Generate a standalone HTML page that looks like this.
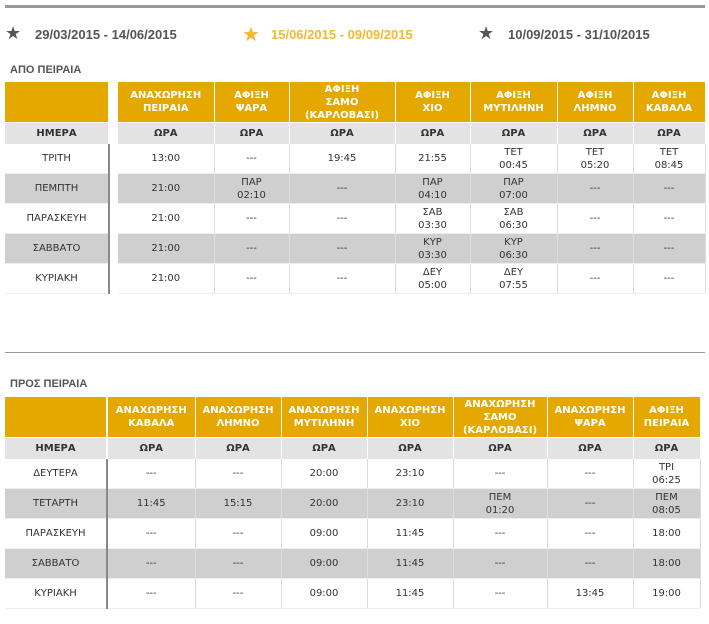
<!DOCTYPE html>
<html><head><meta charset="utf-8"><style>
body{margin:0;width:709px;height:624px;background:#fff;font-family:"Liberation Sans",sans-serif;position:relative;overflow:hidden}
.a{position:absolute}
table{position:absolute;border-collapse:collapse;table-layout:fixed}
td{padding:0;text-align:center;font-size:10px;color:#333;line-height:13px;font-family:"DejaVu Sans",sans-serif}
.h td{background:#E5A800;color:#fff;font-weight:bold;height:40px;border-right:1px solid #fff;border-bottom:1px solid #fff}
.s td{background:#E3E3E3;color:#333;font-weight:bold;height:21px;border-right:1px solid #fff}
.r td{height:29px;border-right:1px solid #ddd;border-bottom:1px solid #eee}
.g td{background:#CFCFCF}
.l td{border-right:none}
.t{font-size:13px;font-weight:bold;color:#555;top:27px}
.ti{font-size:11px;font-weight:bold;color:#555}
.star{font-size:18px;top:23px}
</style></head><body>
<div class="a" style="left:5px;top:5px;width:700px;height:3px;background:#999"></div>
<div class="a star" style="left:5px;color:#555">★</div>
<div class="a t" style="left:35px">29/03/2015 - 14/06/2015</div>
<div class="a star" style="left:242px;color:#F5B82E;font-size:20px;top:22px">★</div>
<div class="a t" style="left:271px;color:#F5B82E">15/06/2015 - 09/09/2015</div>
<div class="a star" style="left:478px;color:#555">★</div>
<div class="a t" style="left:508px">10/09/2015 - 31/10/2015</div>
<div class="a ti" style="left:10px;top:64px">ΑΠΟ ΠΕΙΡΑΙΑ</div>

<table class="l" style="left:5px;top:82px;width:103px">
<tr class="h"><td></td></tr><tr class="s"><td>ΗΜΕΡΑ</td></tr>
<tr class="r"><td>ΤΡΙΤΗ</td></tr><tr class="r g"><td>ΠΕΜΠΤΗ</td></tr><tr class="r"><td>ΠΑΡΑΣΚΕΥΗ</td></tr><tr class="r g"><td>ΣΑΒΒΑΤΟ</td></tr><tr class="r"><td>ΚΥΡΙΑΚΗ</td></tr>
</table>
<div class="a" style="left:108px;top:144px;width:2px;height:150px;background:#888"></div>
<table style="left:118px;top:82px;width:587px">
<colgroup><col style="width:96px"><col style="width:75px"><col style="width:106px"><col style="width:75px"><col style="width:87px"><col style="width:76px"><col style="width:72px"></colgroup>
<tr class="h"><td>ΑΝΑΧΩΡΗΣΗ<br>ΠΕΙΡΑΙΑ</td><td>ΑΦΙΞΗ<br>ΨΑΡΑ</td><td>ΑΦΙΞΗ<br>ΣΑΜΟ<br>(ΚΑΡΛΟΒΑΣΙ)</td><td>ΑΦΙΞΗ<br>ΧΙΟ</td><td>ΑΦΙΞΗ<br>ΜΥΤΙΛΗΝΗ</td><td>ΑΦΙΞΗ<br>ΛΗΜΝΟ</td><td>ΑΦΙΞΗ<br>ΚΑΒΑΛΑ</td></tr>
<tr class="s"><td>ΩΡΑ</td><td>ΩΡΑ</td><td>ΩΡΑ</td><td>ΩΡΑ</td><td>ΩΡΑ</td><td>ΩΡΑ</td><td>ΩΡΑ</td></tr>
<tr class="r"><td>13:00</td><td>---</td><td>19:45</td><td>21:55</td><td>ΤΕΤ<br>00:45</td><td>ΤΕΤ<br>05:20</td><td>ΤΕΤ<br>08:45</td></tr>
<tr class="r g"><td>21:00</td><td>ΠΑΡ<br>02:10</td><td>---</td><td>ΠΑΡ<br>04:10</td><td>ΠΑΡ<br>07:00</td><td>---</td><td>---</td></tr>
<tr class="r"><td>21:00</td><td>---</td><td>---</td><td>ΣΑΒ<br>03:30</td><td>ΣΑΒ<br>06:30</td><td>---</td><td>---</td></tr>
<tr class="r g"><td>21:00</td><td>---</td><td>---</td><td>ΚΥΡ<br>03:30</td><td>ΚΥΡ<br>06:30</td><td>---</td><td>---</td></tr>
<tr class="r"><td>21:00</td><td>---</td><td>---</td><td>ΔΕΥ<br>05:00</td><td>ΔΕΥ<br>07:55</td><td>---</td><td>---</td></tr>
</table>

<div class="a" style="left:5px;top:352px;width:700px;height:1px;background:#999"></div>
<div class="a ti" style="left:10px;top:378px">ΠΡΟΣ ΠΕΙΡΑΙΑ</div>
<table class="l" style="left:5px;top:397px;width:101px">
<tr class="h"><td></td></tr><tr class="s"><td>ΗΜΕΡΑ</td></tr>
<tr class="r"><td>ΔΕΥΤΕΡΑ</td></tr><tr class="r g"><td>ΤΕΤΑΡΤΗ</td></tr><tr class="r"><td>ΠΑΡΑΣΚΕΥΗ</td></tr><tr class="r g"><td>ΣΑΒΒΑΤΟ</td></tr><tr class="r"><td>ΚΥΡΙΑΚΗ</td></tr>
</table>
<div class="a" style="left:106px;top:459px;width:2px;height:150px;background:#888"></div>
<table style="left:108px;top:397px;width:592px">
<colgroup><col style="width:87px"><col style="width:86px"><col style="width:86px"><col style="width:86px"><col style="width:94px"><col style="width:86px"><col style="width:67px"></colgroup>
<tr class="h"><td>ΑΝΑΧΩΡΗΣΗ<br>ΚΑΒΑΛΑ</td><td>ΑΝΑΧΩΡΗΣΗ<br>ΛΗΜΝΟ</td><td>ΑΝΑΧΩΡΗΣΗ<br>ΜΥΤΙΛΗΝΗ</td><td>ΑΝΑΧΩΡΗΣΗ<br>ΧΙΟ</td><td>ΑΝΑΧΩΡΗΣΗ<br>ΣΑΜΟ<br>(ΚΑΡΛΟΒΑΣΙ)</td><td>ΑΝΑΧΩΡΗΣΗ<br>ΨΑΡΑ</td><td>ΑΦΙΞΗ<br>ΠΕΙΡΑΙΑ</td></tr>
<tr class="s"><td>ΩΡΑ</td><td>ΩΡΑ</td><td>ΩΡΑ</td><td>ΩΡΑ</td><td>ΩΡΑ</td><td>ΩΡΑ</td><td>ΩΡΑ</td></tr>
<tr class="r"><td>---</td><td>---</td><td>20:00</td><td>23:10</td><td>---</td><td>---</td><td>ΤΡΙ<br>06:25</td></tr>
<tr class="r g"><td>11:45</td><td>15:15</td><td>20:00</td><td>23:10</td><td>ΠΕΜ<br>01:20</td><td>---</td><td>ΠΕΜ<br>08:05</td></tr>
<tr class="r"><td>---</td><td>---</td><td>09:00</td><td>11:45</td><td>---</td><td>---</td><td>18:00</td></tr>
<tr class="r g"><td>---</td><td>---</td><td>09:00</td><td>11:45</td><td>---</td><td>---</td><td>18:00</td></tr>
<tr class="r"><td>---</td><td>---</td><td>09:00</td><td>11:45</td><td>---</td><td>13:45</td><td>19:00</td></tr>
</table>
</body></html>
